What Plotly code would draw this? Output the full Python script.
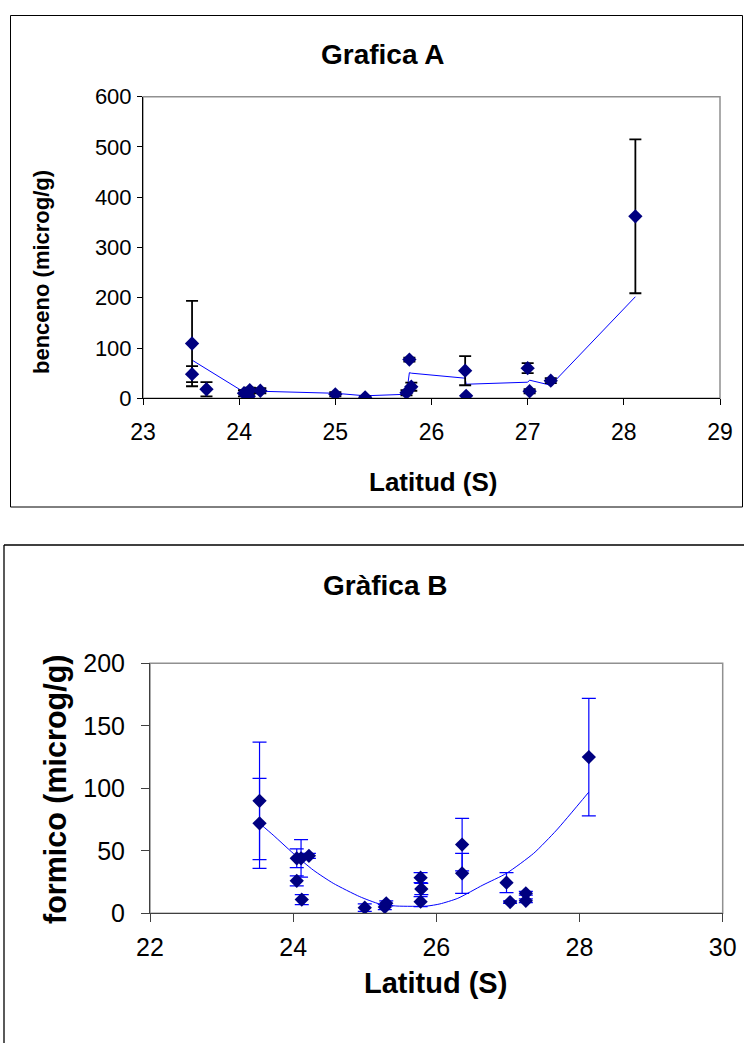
import plotly.graph_objects as go

W, H = 744, 1043

# ---------------- Grafica A data ----------------
lat_A = [23.51, 23.51, 23.66, 24.05, 24.10, 24.11, 24.22, 25.00, 25.31,
         25.74, 25.77, 25.79, 26.35, 26.36, 27.00, 27.02, 27.24, 28.12]
benceno = [109, 48, 18, 10, 4, 16, 15, 8, 2,
           11, 77, 23, 55, 5, 60, 14, 35, 362]
benceno_err = [85, 16, 14, 6, 4, 5, 5, 4, 2,
               5, 4, 8, 29, 0, 10, 4, 5, 153]
# moving-average trend line
trendA_lat = [23.51, 24.07, 24.11, 24.22, 25.00, 25.31, 25.74, 25.77, 25.79,
              26.35, 26.36, 27.00, 27.02, 27.24, 28.12]
trendA_val = [76, 10, 12, 14, 10, 5, 8, 51, 50,
              40, 28, 32, 36, 26, 202]

# ---------------- Grafica B data ----------------
lat_B = [23.53, 23.53, 24.05, 24.11, 24.22, 24.05, 24.12, 25.00, 25.30,
         25.28, 25.78, 25.79, 25.78, 26.36, 26.36, 26.98, 27.03, 27.25, 27.25, 28.13]
formico = [90, 72, 44, 44, 46, 26, 11, 4.5, 8,
           5, 28.5, 19.5, 9.3, 55, 32, 24.5, 9, 16, 10, 125]
formico_err = [47, 36, 7.5, 15, 2, 4, 4, 3, 2,
               2, 4, 4.5, 4, 21, 16, 8, 1, 1.5, 1.5, 47]
# polynomial trend line
trendB_lat = [23.53, 23.72, 24.00, 24.28, 24.56, 24.93, 25.21, 25.45, 25.87,
              26.05, 26.30, 26.65, 26.98, 27.36, 27.68, 28.13]
trendB_val = [72, 62.6, 48, 34.6, 24, 13.3, 7.4, 5.8, 5.8,
              7.5, 12, 22.6, 32, 48, 66.6, 97]

FONT = "Liberation Sans, Arial, sans-serif"
NAVY = "#000080"
BLUE = "#0000FF"

def px_x(p):
    return p / W

def px_y(p):
    return 1 - p / H

fig = go.Figure()

# ---- A traces ----
fig.add_trace(go.Scatter(
    x=trendA_lat, y=trendA_val, mode="lines",
    line=dict(color=BLUE, width=1), xaxis="x", yaxis="y", showlegend=False))
fig.add_trace(go.Scatter(
    x=lat_A, y=benceno, mode="markers",
    marker=dict(symbol="diamond", size=11, color=NAVY),
    error_y=dict(type="data", array=benceno_err, visible=True,
                 color="black", thickness=1.8, width=6),
    xaxis="x", yaxis="y", showlegend=False))

# ---- B traces ----
fig.add_trace(go.Scatter(
    x=trendB_lat, y=trendB_val, mode="lines",
    line=dict(color=BLUE, width=1, shape="spline", smoothing=0.6),
    xaxis="x2", yaxis="y2", showlegend=False))
fig.add_trace(go.Scatter(
    x=lat_B, y=formico, mode="markers",
    marker=dict(symbol="diamond", size=11, color=NAVY),
    error_y=dict(type="data", array=formico_err, visible=True,
                 color=BLUE, thickness=1.2, width=7),
    xaxis="x2", yaxis="y2", showlegend=False))

# plot area pixel boxes
A_x0, A_x1, A_y0, A_y1 = 143, 720, 96.7, 398.3
B_x0, B_x1, B_y0, B_y1 = 150, 722.7, 663.3, 913.3

axis_common = dict(showgrid=False, zeroline=False, showline=True,
                   linewidth=1, ticks="outside", automargin=False)

fig.update_layout(
    width=W, height=H, autosize=False,
    margin=dict(l=0, r=0, t=0, b=0, pad=0, autoexpand=False),
    paper_bgcolor="white", plot_bgcolor="white", showlegend=False,
    xaxis=dict(domain=[px_x(A_x0), px_x(A_x1)], range=[23, 29], dtick=1,
               anchor="y", ticklen=6, linecolor="black", tickcolor="black",
               ticklabelstandoff=7,
               tickfont=dict(family=FONT, size=23, color="black"), **axis_common),
    yaxis=dict(domain=[px_y(A_y1), px_y(A_y0)], range=[0, 600], dtick=100,
               anchor="x", ticklen=5, linecolor="black", tickcolor="black",
               ticklabelstandoff=1,
               tickfont=dict(family=FONT, size=22, color="black"), **axis_common),
    xaxis2=dict(domain=[px_x(B_x0), px_x(B_x1)], range=[22, 30], dtick=2,
                anchor="y2", ticklen=8, linecolor="#404040", tickcolor="#404040",
                ticklabelstandoff=4,
                tickfont=dict(family=FONT, size=25, color="black"), **axis_common),
    yaxis2=dict(domain=[px_y(B_y1), px_y(B_y0)], range=[0, 200], dtick=50,
                anchor="x2", ticklen=8, linecolor="#404040", tickcolor="#404040",
                ticklabelstandoff=11,
                tickfont=dict(family=FONT, size=25, color="black"), **axis_common),
)

shapes = []
# outer chart box A
shapes.append(dict(type="rect", xref="paper", yref="paper",
                   x0=px_x(10.5), x1=px_x(742.5), y0=px_y(507), y1=px_y(15.5),
                   line=dict(color="black", width=1), layer="below"))
# outer chart box B (only top and left edges are visible)
shapes.append(dict(type="line", xref="paper", yref="paper",
                   x0=px_x(4), x1=1, y0=px_y(545), y1=px_y(545),
                   line=dict(color="black", width=1.3), layer="below"))
shapes.append(dict(type="line", xref="paper", yref="paper",
                   x0=px_x(4), x1=px_x(4), y0=0, y1=px_y(545),
                   line=dict(color="black", width=1.3), layer="below"))
# plot-area frames (gray)
shapes.append(dict(type="rect", xref="paper", yref="paper",
                   x0=px_x(A_x0), x1=px_x(A_x1), y0=px_y(A_y1), y1=px_y(A_y0),
                   line=dict(color="#909090", width=1.5), layer="below"))
shapes.append(dict(type="rect", xref="paper", yref="paper",
                   x0=px_x(B_x0), x1=px_x(B_x1), y0=px_y(B_y1), y1=px_y(B_y0),
                   line=dict(color="#909090", width=1.5), layer="below"))

annotations = [
    dict(text="<b>Grafica A</b>", x=px_x(382), y=px_y(54), font=dict(family=FONT, size=28)),
    dict(text="<b>benceno (microg/g)</b>", x=px_x(42), y=px_y(272), textangle=-90,
         font=dict(family=FONT, size=22)),
    dict(text="<b>Latitud (S)</b>", x=px_x(433), y=px_y(482), font=dict(family=FONT, size=26)),
    dict(text="<b>Gràfica B</b>", x=px_x(385), y=px_y(585), font=dict(family=FONT, size=28)),
    dict(text="<b>formico (microg/g)</b>", x=px_x(55), y=px_y(790), textangle=-90,
         font=dict(family=FONT, size=30.5)),
    dict(text="<b>Latitud (S)</b>", x=px_x(435), y=px_y(983), font=dict(family=FONT, size=29)),
]
for a in annotations:
    a.update(xref="paper", yref="paper", showarrow=False, xanchor="center", yanchor="middle")
    a["font"]["color"] = "black"

fig.update_layout(shapes=shapes, annotations=annotations)

fig.write_html("out.html")
